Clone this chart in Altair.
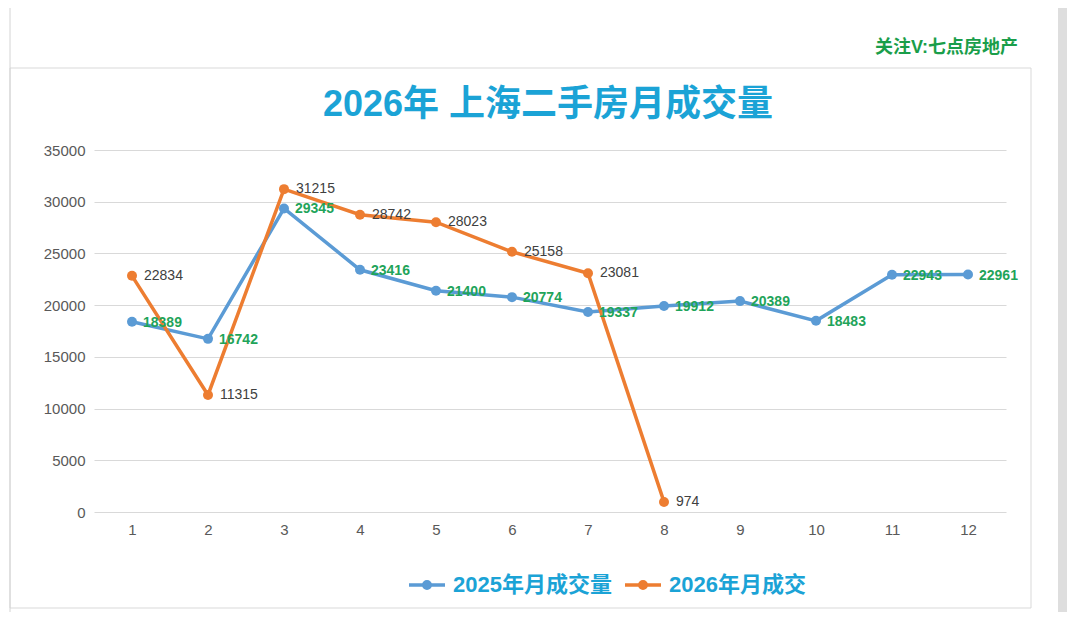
import altair as alt
import pandas as pd

# ---------------- data ----------------
months = [str(i) for i in range(1, 13)]
sales_2025 = [18389, 16742, 29345, 23416, 21400, 20774, 19337, 19912, 20389, 18483, 22943, 22961]
sales_2026 = [22834, 11315, 31215, 28742, 28023, 25158, 23081, 974]
series_names = ["2025年月成交量", "2026年月成交"]
series_colors = ["#5b9bd5", "#ed7d31"]
y_ticks = [0, 5000, 10000, 15000, 20000, 25000, 30000, 35000]
title_text = ["2026年 上海二手房月成交量"]
watermark_text = ["关注V:七点房地产"]

rows = []
for m, v in zip(months, sales_2025):
    rows.append({"month": m, "value": v, "series": series_names[0]})
for m, v in zip(months, sales_2026):
    rows.append({"month": m, "value": v, "series": series_names[1]})
df = pd.DataFrame(rows)

FONT = "Liberation Sans, Noto Sans CJK SC, sans-serif"

x_enc = alt.X(
    "month:O",
    sort=months,
    scale=alt.Scale(type="point", padding=0.5),
    axis=alt.Axis(title=None, labelAngle=0, domain=False, ticks=False, grid=False,
                  labelPadding=10, labelFontSize=15, labelColor="#595959", labelFont=FONT),
)
y_enc = alt.Y(
    "value:Q",
    scale=alt.Scale(domain=[0, 35000], nice=False),
    axis=alt.Axis(title=None, values=y_ticks, format="d", domain=False, ticks=False, grid=True,
                  gridColor="#d9d9d9", gridWidth=1, labelPadding=9, labelFontSize=15,
                  labelColor="#595959", labelFont=FONT),
)

legend_symbol = "M-1,0L1,0M-0.18,0A0.18,0.18,0,1,1,0.18,0A0.18,0.18,0,1,1,-0.18,0Z"

color_enc = alt.Color(
    "series:N",
    scale=alt.Scale(domain=series_names, range=series_colors),
    legend=alt.Legend(
        title=None, orient="none", direction="horizontal", legendX=313, legendY=415,
        symbolType=legend_symbol, symbolSize=1296, symbolStrokeWidth=3.5,
        labelFontSize=22, labelFontWeight="bold", labelColor="#1ba3d6", labelFont=FONT,
        labelOffset=6, columnPadding=6, labelLimit=400,
    ),
)

base = alt.Chart(df)

lines = base.mark_line(strokeWidth=3.5).encode(x=x_enc, y=y_enc, color=color_enc)

points = base.mark_circle(size=100, opacity=1).encode(
    x=x_enc, y=y_enc,
    fill=alt.Fill("series:N", scale=alt.Scale(domain=series_names, range=series_colors), legend=None),
)

labels_2025 = base.transform_filter(alt.datum.series == series_names[0]).mark_text(
    align="left", baseline="middle", dx=11, dy=1, fontSize=14, fontWeight="bold",
    color="#1fa45a", font=FONT,
).encode(x=x_enc, y=y_enc, text="value:Q")

labels_2026 = base.transform_filter(alt.datum.series == series_names[1]).mark_text(
    align="left", baseline="middle", dx=12, dy=0, fontSize=14,
    color="#404040", font=FONT,
).encode(x=x_enc, y=y_enc, text="value:Q")

# ---------------- decorations ----------------
deco_df = pd.DataFrame({"k": [0]})
frame = alt.Chart(deco_df).mark_rect(fillOpacity=0, stroke="#d9d9d9", strokeWidth=1).encode(
    x=alt.value(-84), x2=alt.value(937), y=alt.value(-82), y2=alt.value(458)
)
left_line = alt.Chart(deco_df).mark_rule(color="#d4d4d4", strokeWidth=1).encode(
    x=alt.value(-84), y=alt.value(-150), y2=alt.value(480)
)
right_bar = alt.Chart(deco_df).mark_rect(fill="#dedede").encode(
    x=alt.value(964), x2=alt.value(973), y=alt.value(-150), y2=alt.value(480)
)

title = alt.Chart(pd.DataFrame({"t": title_text})).mark_text(
    align="center", baseline="middle", fontSize=36, fontWeight="bold",
    color="#1ba3d6", font=FONT,
).encode(x=alt.value(454), y=alt.value(-45), text="t:N")

watermark = alt.Chart(pd.DataFrame({"t": watermark_text})).mark_text(
    align="right", baseline="middle", fontSize=18, fontWeight="bold",
    color="#1a9e4a", font=FONT,
).encode(x=alt.value(924), y=alt.value(-102), text="t:N")

chart = alt.layer(
    frame, left_line, right_bar, lines, points, labels_2025, labels_2026, title, watermark
).properties(
    width=912, height=362,
    padding={"left": 86, "top": 142, "right": 66, "bottom": 100},
    autosize=alt.AutoSizeParams(type="none"),
    background="white",
).configure_view(stroke=None)

chart.save("out.html", embed_options={"renderer": "svg", "actions": False})
